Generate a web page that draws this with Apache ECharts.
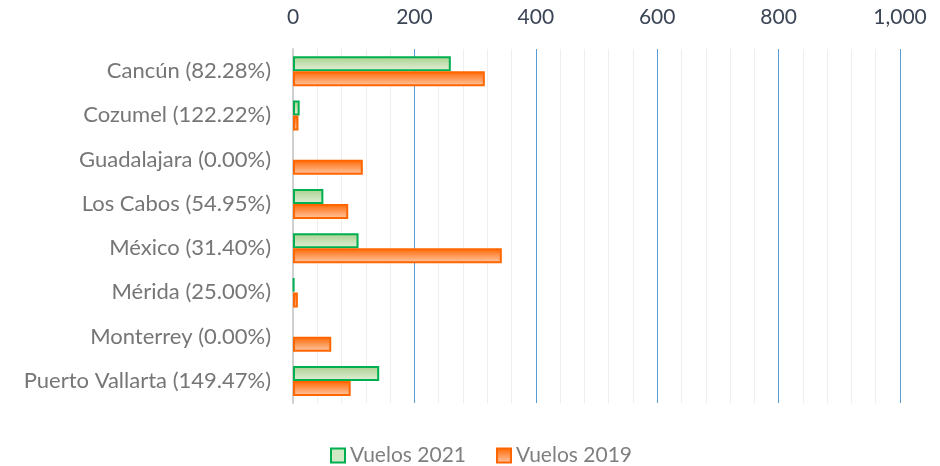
<!DOCTYPE html>
<html>
<head>
<meta charset="utf-8">
<script src="https://cdn.jsdelivr.net/npm/echarts@6/dist/echarts.min.js"></script>
<style>
  html, body { margin: 0; padding: 0; background: #fff; }
  #chart { width: 940px; height: 466px; }
</style>
</head>
<body>
<div id="chart"></div>
<script>
const categories = [
  'Cancún (82.28%)',
  'Cozumel (122.22%)',
  'Guadalajara (0.00%)',
  'Los Cabos (54.95%)',
  'México (31.40%)',
  'Mérida (25.00%)',
  'Monterrey (0.00%)',
  'Puerto Vallarta (149.47%)',
];
const vuelos2021 = [260, 11, 0, 50, 108, 2, 0, 142];
const vuelos2019 = [316, 9, 115, 91, 344, 8, 63, 95];
const xTicks = [0, 200, 400, 600, 800, 1000];

const font = 'Lato, "Open Sans", sans-serif';

const greenFill = new echarts.graphic.LinearGradient(0, 0, 0, 1, [
  { offset: 0, color: '#a8d08d' },
  { offset: 1, color: '#e2efd9' },
]);
const orangeFill = new echarts.graphic.LinearGradient(0, 0, 0, 1, [
  { offset: 0, color: '#ff6600' },
  { offset: 1, color: '#ffc9a8' },
]);

// a zero bar has no outline in the original
const withBorder = (values) =>
  values.map((v) => (v === 0 ? { value: v, itemStyle: { borderWidth: 0 } } : v));

const chart = echarts.init(document.getElementById('chart'));

chart.setOption({
  animation: false,
  textStyle: { fontFamily: font },
  grid: { left: 293, right: 40, top: 49, bottom: 63, containLabel: false },
  legend: {
    bottom: -5,
    left: 325,
    icon: 'rect',
    itemWidth: 14,
    itemHeight: 14,
    itemGap: 30,
    textStyle: { fontSize: 21, color: '#7f7f7f', fontFamily: font },
    data: [
      { name: 'Vuelos 2021', itemStyle: { color: '#d3e8c4', borderColor: '#00b050', borderWidth: 2 } },
      { name: 'Vuelos 2019', itemStyle: { color: orangeFill, borderColor: '#ff6600', borderWidth: 2 } },
    ],
  },
  xAxis: {
    type: 'value',
    position: 'top',
    min: 0,
    max: 1000,
    interval: 200,
    axisLine: { show: false },
    axisTick: { show: false },
    axisLabel: {
      fontSize: 21,
      color: '#3b4556',
      margin: 21,
      formatter: (v) => (xTicks.includes(v) ? v.toLocaleString('en-US') : ''),
    },
    splitLine: { show: true, lineStyle: { color: '#5b9bd5', width: 1 } },
    minorTick: { show: false, splitNumber: 5 },
    minorSplitLine: { show: true, lineStyle: { color: '#eeeeee', width: 1 } },
  },
  yAxis: {
    type: 'category',
    inverse: true,
    data: categories,
    axisLine: { show: true, lineStyle: { color: '#d0d0d0', width: 2 } },
    axisTick: { show: false },
    axisLabel: { fontSize: 22, color: '#767676', margin: 22 },
  },
  series: [
    {
      name: 'Vuelos 2021',
      type: 'bar',
      data: withBorder(vuelos2021),
      barWidth: 15,
      barGap: '0%',
      itemStyle: { color: greenFill, borderColor: '#00b050', borderWidth: 2 },
    },
    {
      name: 'Vuelos 2019',
      type: 'bar',
      data: withBorder(vuelos2019),
      barWidth: 15,
      barGap: '0%',
      itemStyle: { color: orangeFill, borderColor: '#ff6600', borderWidth: 2 },
    },
  ],
});
</script>
</body>
</html>
